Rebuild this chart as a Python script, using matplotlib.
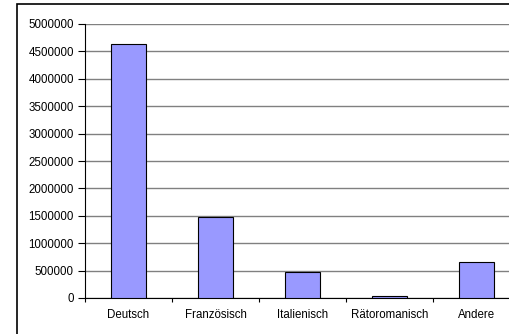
import matplotlib.pyplot as plt
from matplotlib.patches import Rectangle

# Sprachen in der Schweiz (Volkszählung)
sprachen = ["Deutsch", "Französisch", "Italienisch", "Rätoromanisch", "Andere"]
anzahl = [4640359, 1485056, 470961, 35095, 656539]
y_ticks = list(range(0, 5000001, 500000))

W, H = 510, 334
fig = plt.figure(figsize=(W / 100, H / 100), dpi=100)
plt.rcParams["font.family"] = ["Liberation Sans", "DejaVu Sans"]

# plot area (extends past the right edge like the reference crop)
ax = fig.add_axes([85 / W, 1 - 298 / H, 435 / W, 274 / H])
x = list(range(len(sprachen)))
ax.bar(x, anzahl, width=0.4, color="#9999FF", edgecolor="black", linewidth=0.8, zorder=3)

ax.set_xlim(-0.5, len(sprachen) - 0.5)
ax.set_ylim(0, 5000000)
ax.set_yticks(y_ticks)
ax.set_yticklabels([str(v) for v in y_ticks], fontsize=8.3)
ax.yaxis.grid(True, color="#808080", linewidth=1.0, zorder=0)
ax.set_axisbelow(True)

ax.set_xticks([i - 0.5 for i in range(len(sprachen) + 1)])
ax.set_xticklabels([])
ax.set_xticks(x, minor=True)
ax.set_xticklabels(sprachen, minor=True, fontsize=8.3)
ax.tick_params(axis="x", which="major", length=3, width=0.8, direction="out")
ax.tick_params(axis="x", which="minor", length=0, pad=8)
ax.tick_params(axis="y", length=5, width=0.8, pad=3)

for s in ["top", "right"]:
    ax.spines[s].set_visible(False)
for s in ["left", "bottom"]:
    ax.spines[s].set_linewidth(0.8)
    ax.spines[s].set_color("black")

# outer chart border (cut off at the right and bottom)
fig.patches.append(Rectangle((17 / W, -0.1), 1.2, 1 - 4 / H + 0.1,
                             transform=fig.transFigure, fill=False,
                             edgecolor="black", linewidth=1.2))

fig.savefig("out.png", dpi=100)
